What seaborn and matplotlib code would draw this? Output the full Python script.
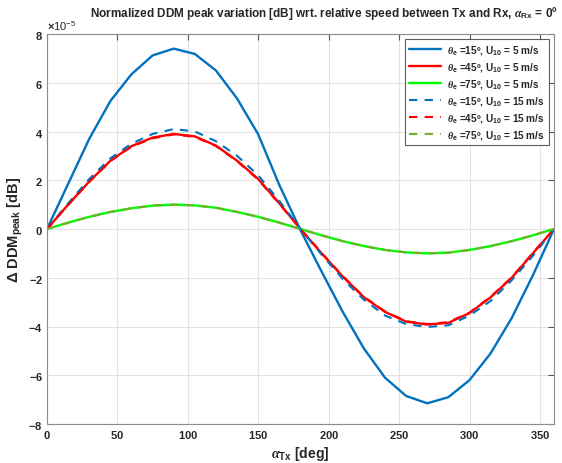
import numpy as np
import pandas as pd
import matplotlib
matplotlib.use("Agg")
import matplotlib.pyplot as plt
import seaborn as sns

alpha_tx = list(range(0, 361, 15))
# values in units of 1e-5 dB
s15_5 = [0, 1.85, 3.7, 5.25, 6.35, 7.12, 7.4, 7.18, 6.5, 5.35, 3.88, 1.8, -0.05,
         -1.75, -3.4, -4.9, -6.1, -6.85, -7.15, -6.9, -6.2, -5.1, -3.65, -1.9, 0]
s45_5 = [0, 1.0, 1.95, 2.8, 3.4, 3.75, 3.9, 3.8, 3.42, 2.8, 2.05, 1.05, 0,
         -1.0, -1.95, -2.8, -3.4, -3.8, -3.92, -3.85, -3.45, -2.8, -2.0, -1.0, 0]
s75_5 = [0, 0.26, 0.5, 0.7, 0.85, 0.96, 1.0, 0.97, 0.87, 0.7, 0.5, 0.26, 0,
         -0.26, -0.5, -0.7, -0.86, -0.96, -1.0, -0.97, -0.86, -0.7, -0.5, -0.26, 0]
s15_15 = [0, 1.05, 2.05, 2.9, 3.5, 3.9, 4.1, 4.0, 3.6, 3.0, 2.2, 1.15, 0,
          -1.05, -2.05, -2.9, -3.55, -3.9, -4.02, -3.95, -3.55, -2.95, -2.1, -1.1, 0]
s45_15 = [0, 0.98, 1.93, 2.78, 3.38, 3.72, 3.88, 3.78, 3.4, 2.78, 2.02, 1.03, 0,
          -0.98, -1.93, -2.78, -3.38, -3.78, -3.9, -3.82, -3.43, -2.78, -1.98, -0.98, 0]
s75_15 = [0, 0.26, 0.5, 0.7, 0.85, 0.96, 1.0, 0.97, 0.87, 0.7, 0.5, 0.26, 0,
          -0.26, -0.5, -0.7, -0.86, -0.96, -1.0, -0.97, -0.86, -0.7, -0.5, -0.26, 0]

labels = [r'$\theta_{\rm e}$ =15º, U$_{10}$ = 5 m/s',
          r'$\theta_{\rm e}$ =45º, U$_{10}$ = 5 m/s',
          r'$\theta_{\rm e}$ =75º, U$_{10}$ = 5 m/s',
          r'$\theta_{\rm e}$ =15º, U$_{10}$ = 15 m/s',
          r'$\theta_{\rm e}$ =45º, U$_{10}$ = 15 m/s',
          r'$\theta_{\rm e}$ =75º, U$_{10}$ = 15 m/s']
series = [s15_5, s45_5, s75_5, s15_15, s45_15, s75_15]
colors = ['#0072BD', '#FF0000', '#00FF00', '#0072BD', '#FF0000', '#77AC30']
styles = ['-', '-', '-', (0, (4, 3.5)), (0, (4, 3.5)), (0, (4, 3.5))]
widths = [1.7, 1.7, 1.7, 1.5, 1.5, 1.5]

sns.set_style("white")
plt.rcParams['font.family'] = ['Liberation Sans', 'DejaVu Sans']
plt.rcParams['font.weight'] = 'bold'
plt.rcParams['mathtext.fontset'] = 'custom'
plt.rcParams['mathtext.rm'] = 'Liberation Sans:bold'
plt.rcParams['mathtext.it'] = 'Liberation Serif:italic'
plt.rcParams['mathtext.bf'] = 'Liberation Sans:bold'
plt.rcParams['axes.formatter.use_mathtext'] = True

fig = plt.figure(figsize=(5.62, 4.64), dpi=100)
ax = fig.add_axes([47/562, 1-425/464, (554-47)/562, (425-35)/464])

for lab, s, c, ls, lw in zip(labels, series, colors, styles, widths):
    df = pd.DataFrame({'x': alpha_tx, 'y': np.array(s) * 1e-5})
    sns.lineplot(data=df, x='x', y='y', ax=ax, color=c, linestyle=ls, linewidth=lw, label=lab)

ax.set_xlim(0, 360)
ax.set_ylim(-8e-5, 8e-5)
ax.set_xticks(range(0, 361, 50))
ax.set_yticks(np.arange(-8, 9, 2) * 1e-5)
ax.ticklabel_format(axis='y', style='sci', scilimits=(-5, -5), useMathText=True)
ax.yaxis.get_offset_text().set_fontsize(8)
ax.yaxis.get_offset_text().set_fontweight('normal')
ax.grid(True, color='#e3e3e3', linewidth=0.8)
for sp in ax.spines.values():
    sp.set_color('#8c8c8c')
    sp.set_linewidth(0.8)
ax.tick_params(direction='in', length=4, color='#555555', labelsize=8, top=True, right=True, pad=3)
for t in ax.get_xticklabels() + ax.get_yticklabels():
    t.set_fontweight('bold')

ax.set_xlabel(r'$\alpha_{\rm Tx}$ [deg]', fontsize=10, fontweight='bold', labelpad=3)
ax.set_ylabel(r'$\Delta$ DDM$_{\rm peak}$ [dB]', fontsize=10.5, fontweight='bold', labelpad=2)
fig.text(324/562, 1-13/464, r'Normalized DDM peak variation [dB] wrt. relative speed between Tx and Rx, $\alpha_{\rm Rx}$ = 0º',
         ha='center', va='center', fontsize=8.5, fontweight='bold')

leg = ax.legend(loc='upper right', fontsize=7.2, frameon=True, fancybox=False,
                edgecolor='#333333', handlelength=3.2, borderaxespad=0.5,
                labelspacing=0.4, borderpad=0.4, handletextpad=0.6)
leg.get_frame().set_linewidth(0.8)
for t in leg.get_texts():
    t.set_fontweight('bold')

fig.savefig('out.png', dpi=100)
